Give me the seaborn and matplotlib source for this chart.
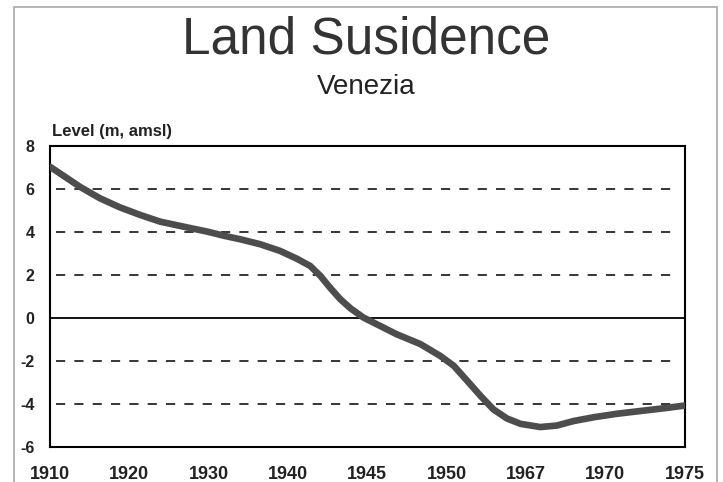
import pandas as pd
import matplotlib.pyplot as plt
import seaborn as sns
from matplotlib.patches import Rectangle

# Werte
years = ['1910', '1920', '1930', '1940', '1945', '1950', '1967', '1970', '1975']
y_ticks = [-6, -4, -2, 0, 2, 4, 6, 8]
# Position auf der (gleichabständigen) Jahresachse, 0 = 1910 ... 8 = 1975
trace_pos = [0, 0.38, 0.63, 0.88, 1.14, 1.39, 1.72, 1.98, 2.2, 2.40, 2.65,
             2.90, 3.11, 3.28, 3.41, 3.53, 3.66, 3.79, 3.95, 4.16, 4.37, 4.67,
             4.92, 5.09, 5.26, 5.43, 5.59, 5.76, 5.93, 6.18, 6.39, 6.60, 6.86,
             7.15, 7.45, 7.75, 8.0]
level = [7.04, 6.1, 5.57, 5.15, 4.79, 4.48, 4.22, 4.02, 3.82, 3.66, 3.43,
         3.12, 2.76, 2.42, 1.95, 1.41, 0.87, 0.44, 0.02, -0.37, -0.76, -1.22,
         -1.77, -2.23, -2.93, -3.64, -4.26, -4.68, -4.93, -5.08, -5.01, -4.80, -4.62,
         -4.46, -4.33, -4.20, -4.08]

df = pd.DataFrame({'pos': trace_pos, 'level': level})

sns.set_style('white')
plt.rcParams['font.family'] = ['Liberation Sans', 'DejaVu Sans']
plt.rcParams['axes.unicode_minus'] = False

fig = plt.figure(figsize=(7.23, 4.82), dpi=100)
ax = fig.add_axes([0.069, 0.073, 0.878, 0.624])

# Rahmen der eingescannten Seite
fig.add_artist(Rectangle((14 / 723, -0.1), (717 - 14) / 723, 1.1 - 7 / 482,
                         transform=fig.transFigure, fill=False,
                         edgecolor='#a8a8a8', lw=1.2))

for v in [6, 4, 2, -2, -4]:
    ax.axhline(v, xmin=0.01, xmax=0.985, color='black', lw=1.1,
               linestyle=(0, (6, 6)), zorder=1)
ax.axhline(0, color='black', lw=1.3, zorder=1)

sns.lineplot(data=df, x='pos', y='level', ax=ax, color='#4d4d4d', lw=4.8,
             solid_capstyle='round', solid_joinstyle='round', zorder=3)

ax.set_xlim(0, 8)
ax.set_ylim(-6, 8)
ax.set_xticks(range(len(years)))
ax.set_xticklabels(years)
ax.set_yticks(y_ticks)
ax.set_xlabel('')
ax.set_ylabel('')
ax.tick_params(axis='x', length=0, pad=14, labelsize=13, colors='#222222')
ax.tick_params(axis='y', length=0, pad=11, labelsize=11.5, colors='#222222')
for lab in ax.get_xticklabels() + ax.get_yticklabels():
    lab.set_fontweight('bold')
for s in ax.spines.values():
    s.set_color('black')
    s.set_linewidth(1.5)

fig.text(0.506, 0.918, 'Land Susidence', ha='center', va='center',
         fontsize=37, color='#333333')
fig.text(0.507, 0.82, 'Venezia', ha='center', va='center',
         fontsize=20, color='#222222')
fig.text(0.072, 0.728, 'Level (m, amsl)', ha='left', va='center',
         fontsize=12, fontweight='bold', color='#222222')

fig.savefig('out.png', dpi=100, facecolor='white')
